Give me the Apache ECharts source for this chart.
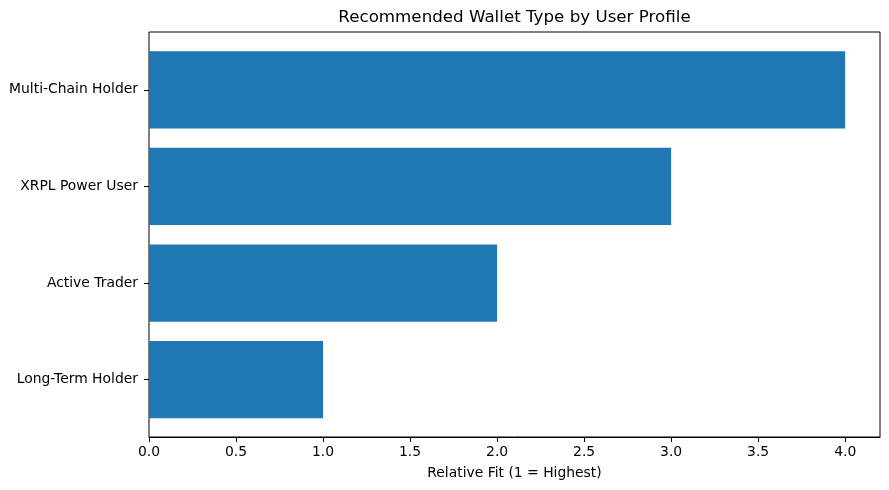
<!DOCTYPE html>
<html>
<head>
<meta charset="utf-8">
<script src="https://cdn.jsdelivr.net/npm/echarts@6/dist/echarts.min.js"></script>
<style>html,body{margin:0;padding:0;background:#fff}#c{width:889px;height:490px}</style>
</head>
<body>
<div id="c"></div>
<script>
const categories = ["Long-Term Holder", "Active Trader", "XRPL Power User", "Multi-Chain Holder"];
const fitValues = [1, 2, 3, 4];
const xTicks = [0, 0.5, 1, 1.5, 2, 2.5, 3, 3.5, 4];

const chart = echarts.init(document.getElementById('c'), null, {renderer: 'canvas'});
const font = 'DejaVu Sans';
chart.setOption({
  animation: false,
  backgroundColor: '#fff',
  graphic: [{
    type: 'text', x: 514.5, y: 18,
    style: {
      text: 'Recommended Wallet Type by User Profile',
      x: 0, y: 0, align: 'center', verticalAlign: 'middle',
      font: '16.7px "DejaVu Sans"', fill: '#000'
    }
  }],
  grid: [
    {left: 149, right: 9, top: 32, bottom: 53, show: true, borderColor: '#000', borderWidth: 1, backgroundColor: 'transparent'},
    {left: 149, right: 9, top: 41.5, bottom: 62}
  ],
  xAxis: [
    {
      gridIndex: 0, type: 'value', min: 0, max: 4.2,
      name: 'Relative Fit (1 = Highest)', nameLocation: 'middle', nameGap: 29,
      nameTextStyle: {fontFamily: font, fontSize: 13.9, color: '#000'},
      axisLine: {show: true, lineStyle: {color: '#000'}},
      axisTick: {show: true, length: 5, inside: false, customValues: xTicks, lineStyle: {color: '#000'}},
      axisLabel: {fontFamily: font, fontSize: 13.9, color: '#000', margin: 8,
        customValues: xTicks, formatter: v => v.toFixed(1)},
      splitLine: {show: false}
    },
    {
      gridIndex: 1, type: 'value', min: 0, max: 4.2, show: false
    }
  ],
  yAxis: [
    {gridIndex: 0, type: 'value', show: false},
    {
      gridIndex: 1, type: 'category', data: categories,
      axisLine: {show: false},
      axisTick: {show: true, alignWithLabel: true, length: 5, inside: false, lineStyle: {color: '#000'}},
      axisLabel: {fontFamily: font, fontSize: 13.9, color: '#000', margin: 11},
      splitLine: {show: false}
    }
  ],
  series: [{
    type: 'bar', xAxisIndex: 1, yAxisIndex: 1,
    data: fitValues, barWidth: '80%',
    itemStyle: {color: '#1f77b4'}
  }]
});
</script>
</body>
</html>
